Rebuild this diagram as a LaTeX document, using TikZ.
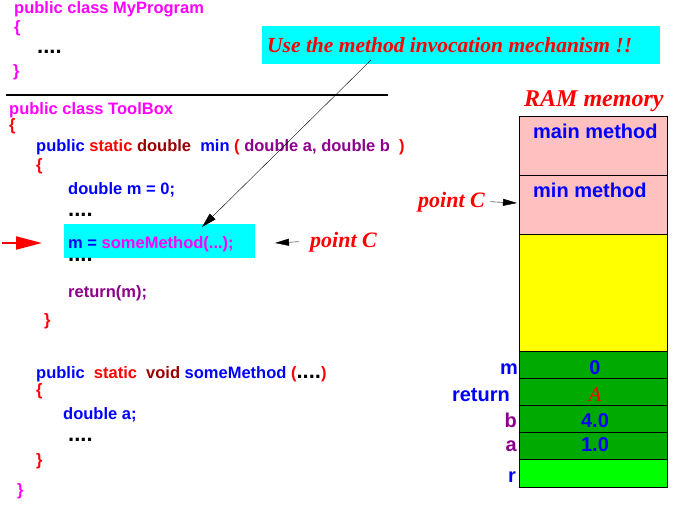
\documentclass[tikz,border=0pt]{standalone}
\usepackage{fontspec}
\setmainfont{Liberation Sans}
\newfontfamily\notefont{Liberation Serif}
\usepackage{xcolor}
\usetikzlibrary{arrows.meta}

\definecolor{codemag}{RGB}{255,0,255}
\definecolor{codered}{RGB}{255,0,0}
\definecolor{codeblue}{RGB}{0,0,255}
\definecolor{codemaroon}{RGB}{150,0,0}
\definecolor{codepurple}{RGB}{140,0,140}
\definecolor{callcyan}{RGB}{0,255,255}
\definecolor{ramrose}{RGB}{255,192,192}
\definecolor{ramyellow}{RGB}{255,255,0}
\definecolor{ramgreen}{RGB}{0,170,0}
\definecolor{ramlime}{RGB}{0,255,0}

\newcommand{\dotrow}{{\fontsize{22}{24}\selectfont....}}

\tikzset{
  code/.style={anchor=base west, inner sep=0pt, font=\fontsize{16.5}{20}\selectfont\bfseries},
  note/.style={anchor=base west, inner sep=0pt, text=codered, font=\notefont\fontsize{22}{26}\selectfont\bfseries\itshape},
  ramtext/.style={inner sep=0pt, font=\fontsize{20}{24}\selectfont\bfseries},
  slot/.style={draw=black, line width=1pt},
  pointer/.style={-{Triangle[length=14pt,width=7pt]}}
}

\begin{document}
\begin{tikzpicture}[x=1pt, y=-1pt]
  \useasboundingbox (0,0) rectangle (687,505);

  % class MyProgram
  \node[code, text=codemag] (mycls) at (14,13.5) {public class MyProgram};
  \node[code, text=codemag] (myopen) at (14,33) {\{};
  \node[code] (mydots) at (37,54) {\dotrow};
  \node[code, text=codemag] (myclose) at (13,77) {\}};
  \draw[line width=2pt] (6,95) -- (388,95);

  % banner
  \node[fill=callcyan, anchor=north west, inner sep=0pt,
        minimum width=398pt, minimum height=38pt] (banner) at (262,26) {};
  \node[note, font=\notefont\fontsize{21.5}{26}\selectfont\bfseries\itshape]
        (bannertext) at (267,53) {Use the method invocation mechanism !!};

  % class ToolBox
  \node[code, text=codemag] (tbcls) at (9,115) {public class ToolBox};
  \node[code, text=codered] (tbopen) at (9,131) {\{};
  \node[code] (minhead) at (36,152) {\textcolor{codeblue}{public}
    \textcolor{codered}{static} \textcolor{codemaroon}{double}\ \
    \textcolor{codeblue}{min} \textcolor{codered}{(}
    \textcolor{codepurple}{double a, double b}\ \ \textcolor{codered}{)}};
  \node[code, text=codered] (minopen) at (36,171) {\{};
  \node[code, text=codeblue] (mdecl) at (68,194) {double m = 0;};
  \node[code] (mdots1) at (68,216) {\dotrow};
  \node[fill=callcyan, anchor=north west, inner sep=0pt,
        minimum width=191pt, minimum height=34pt] (callbox) at (64,224) {};
  \node[code] (mcall) at (68,248) {\textcolor{codeblue}{m =}
    \textcolor{codemag}{someMethod(...);}};
  \node[code] (mdots2) at (68,261) {\dotrow};
  \node[code, text=codepurple] (mret) at (68,297) {return(m);};
  \node[code, text=codered] (minclose) at (44,325) {\}};

  \node[code] (somehead) at (36,378) {\textcolor{codeblue}{public}\ \
    \textcolor{codered}{static}\ \ \textcolor{codemaroon}{void}
    \textcolor{codeblue}{someMethod} \textcolor{codered}{(}\dotrow\textcolor{codered}{)}};
  \node[code, text=codered] (someopen) at (36,395) {\{};
  \node[code, text=codeblue] (adecl) at (63,419) {double a;};
  \node[code] (adots) at (68,441) {\dotrow};
  \node[code, text=codered] (someclose) at (36,465) {\}};
  \node[code, text=codemag] (tbclose) at (17,495) {\}};

  % arrows at the call
  \coordinate (bannerfoot) at (371,60);
  \coordinate (calltip) at (202,227);
  \draw[-{Triangle[length=15pt,width=8pt]}] (bannerfoot) -- (calltip);
  \coordinate (redtail) at (2,243);
  \coordinate (redtip) at (42,243);
  \draw[codered, line width=2pt, -{Triangle[length=26pt,width=13pt]}] (redtail) -- (redtip);
  \node[note] (pcode) at (310,247) {point C};
  \coordinate (pcodetip) at (275,243);
  \draw[pointer] ([xshift=-11pt]pcode.west) -- (pcodetip);

  % RAM memory
  \node[note, font=\notefont\fontsize{24}{28}\selectfont\bfseries\itshape]
        (ramtitle) at (524,107) {RAM memory};
  \filldraw[slot, fill=ramrose] (519,117) rectangle (667,175);
  \filldraw[slot, fill=ramrose] (519,175) rectangle (667,234);
  \filldraw[slot, fill=ramyellow] (519,234) rectangle (667,351);
  \filldraw[slot, fill=ramgreen] (519,351) rectangle (667,378);
  \filldraw[slot, fill=ramgreen] (519,378) rectangle (667,405);
  \filldraw[slot, fill=ramgreen] (519,405) rectangle (667,432);
  \filldraw[slot, fill=ramgreen] (519,432) rectangle (667,459);
  \filldraw[slot, fill=ramlime] (519,459) rectangle (667,487);

  \node[ramtext, anchor=base west, text=codeblue] (mainframe) at (533,139) {main method};
  \node[ramtext, anchor=base west, text=codeblue] (minframe) at (533,197) {min method};
  \node[note] (pram) at (418,207) {point C};
  \coordinate (ramtip) at (517,203);
  \draw[pointer] ([xshift=5pt]pram.east) -- (ramtip);

  \node[ramtext, anchor=base east, text=codeblue] (mlabel) at (518,374) {m};
  \node[ramtext, anchor=base east, text=codeblue] (retlabel) at (510,401) {return};
  \node[ramtext, anchor=base east, text=codepurple] (blabel) at (517,427) {b};
  \node[ramtext, anchor=base east, text=codepurple] (alabel) at (517,451) {a};
  \node[ramtext, anchor=base east, text=codeblue] (rlabel) at (516,482) {r};

  \node[ramtext, anchor=base, text=codeblue] (mval) at (595,374) {0};
  \node[inner sep=0pt, anchor=base, text=codered,
        font=\notefont\fontsize{21}{24}\selectfont\itshape] (retval) at (595,401) {A};
  \node[ramtext, anchor=base, text=codeblue] (bval) at (595,427) {4.0};
  \node[ramtext, anchor=base, text=codeblue] (aval) at (595,451) {1.0};
\end{tikzpicture}
\end{document}
